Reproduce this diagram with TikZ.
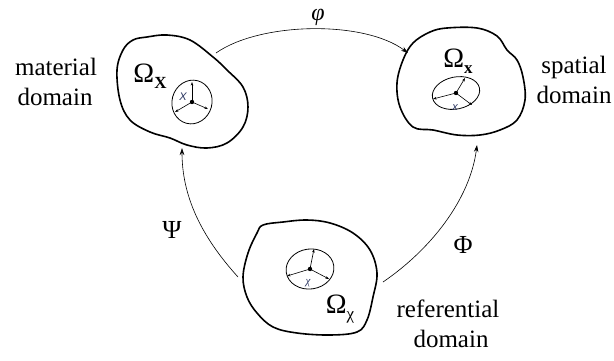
\documentclass[tikz,border=0pt]{standalone}
\usepackage{fontspec}
\setmainfont{Liberation Serif}
\newfontfamily\labsans{Liberation Sans}
\usetikzlibrary{arrows.meta}
\definecolor{lblue}{HTML}{2A3560}
\tikzset{
  blob/.style={line width=1.6pt, line join=round},
  map/.style={line width=0.6pt, -{Stealth[length=7pt,width=4.5pt]}},
  cell/.style={line width=0.8pt},
  vec/.style={line width=0.6pt, -{Stealth[length=3.5pt,width=2.6pt]}},
  big/.style={font=\fontsize{26}{30}\selectfont, inner sep=0pt},
  dom/.style={font=\fontsize{25}{30}\selectfont, align=center, inner sep=0pt},
  small/.style={font=\fontsize{11}{11}\selectfont, text=lblue, inner sep=0pt},
}
\newcommand{\OmSub}[1]{\fontsize{28}{30}\selectfont Ω\raisebox{-6pt}{\fontsize{17}{17}\selectfont #1}}
\begin{document}
\begin{tikzpicture}[x=1pt,y=-1pt]
\useasboundingbox (0,0) rectangle (614,360);
% --- blobs ---
\draw[blob] plot[smooth cycle, tension=0.6] coordinates {
 (147,37) (133,40) (123,50) (117,70) (120,100) (130,120) (150,132) (170,138)
 (187,145) (207,148) (227,143) (243,127) (248,107) (243,87) (227,70) (213,57)
 (190,40) (167,35)};
\draw[blob] plot[smooth cycle, tension=0.6] coordinates {
 (447,28) (430,32) (413,43) (403,60) (397,83) (400,107) (413,127) (433,130)
 (457,135) (480,135) (500,130) (517,120) (525,100) (523,77) (517,60) (507,50)
 (497,36) (477,28)};
\draw[blob] plot[smooth cycle, tension=0.6] coordinates {
 (263,225) (283,222) (307,220) (330,223) (353,233) (370,250) (377,273) (373,297)
 (367,320) (357,332) (330,335) (297,333) (273,327) (257,313) (247,297) (243,277)
 (248,253) (257,233)};
% --- domain names ---
\node[anchor=base, inner sep=0pt] (OX) at (150,82) {\OmSub{\textbf{X}}};
\node[anchor=base, inner sep=0pt] (Ox) at (458,67) {\OmSub{\textbf{x}}};
\node[anchor=base, inner sep=0pt] (Oc) at (340,313) {\OmSub{χ}};
% --- small cells ---
\coordinate (cL) at (192,102);
\coordinate (cR) at (456,93);
\coordinate (cB) at (310,269);
\draw[cell, rotate around={-15:(cL)}] (cL) ellipse [x radius=20, y radius=22];
\draw[cell, rotate around={12:(cR)}] (cR) ellipse [x radius=24, y radius=16];
\draw[cell, rotate around={8:(cB)}] (cB) ellipse [x radius=24, y radius=20];
\coordinate (l1) at (192,82); \coordinate (l2) at (175,112); \coordinate (l3) at (208,109);
\coordinate (r1) at (465,78); \coordinate (r2) at (433,99); \coordinate (r3) at (472,105);
\coordinate (b1) at (314,249); \coordinate (b2) at (287,276); \coordinate (b3) at (329,279);
\foreach \c/\t in {cL/l1,cL/l2,cL/l3,cR/r1,cR/r2,cR/r3,cB/b1,cB/b2,cB/b3}
  \draw[vec] (\c) -- (\t);
\fill (cL) circle (2.2); \fill (cR) circle (2.2); \fill (cB) circle (2.2);
\node[small] (sX) at (183,97) {\labsans\itshape X};
\node[small] (sx) at (455,108) {\labsans\itshape x};
\node[small] (sc) at (308,283) {\itshape χ};
% --- mappings ---
\coordinate (phiS) at (216,53); \coordinate (phiE) at (408,53);
\coordinate (psiS) at (238,277); \coordinate (psiE) at (182,148);
\coordinate (PhiS) at (383,282); \coordinate (PhiE) at (477,145);
\draw[map] (phiS) .. controls (260,22) and (364,20) .. (phiE);
\draw[map] (psiS) .. controls (200,235) and (182,195) .. (psiE);
\draw[map] (PhiS) .. controls (430,250) and (470,200) .. (PhiE);
\node[anchor=base, inner sep=0pt, font=\fontsize{24}{28}\selectfont] (lphi) at (318,20) {\itshape φ};
\node[big] (lpsi) at (172,230) {Ψ};
\node[big] (lPhi) at (463,245) {Φ};
% --- domain labels ---
\node[dom, anchor=base] (mat) at (56,75) {material};
\node[dom, anchor=base] (matd) at (55,105) {domain};
\node[dom, anchor=base] (spa) at (574,73) {spatial};
\node[dom, anchor=base] (spad) at (574,103) {domain};
\node[dom, anchor=base] (ref) at (448,317) {referential};
\node[dom, anchor=base] (refd) at (451,347) {domain};
\end{tikzpicture}
\end{document}
